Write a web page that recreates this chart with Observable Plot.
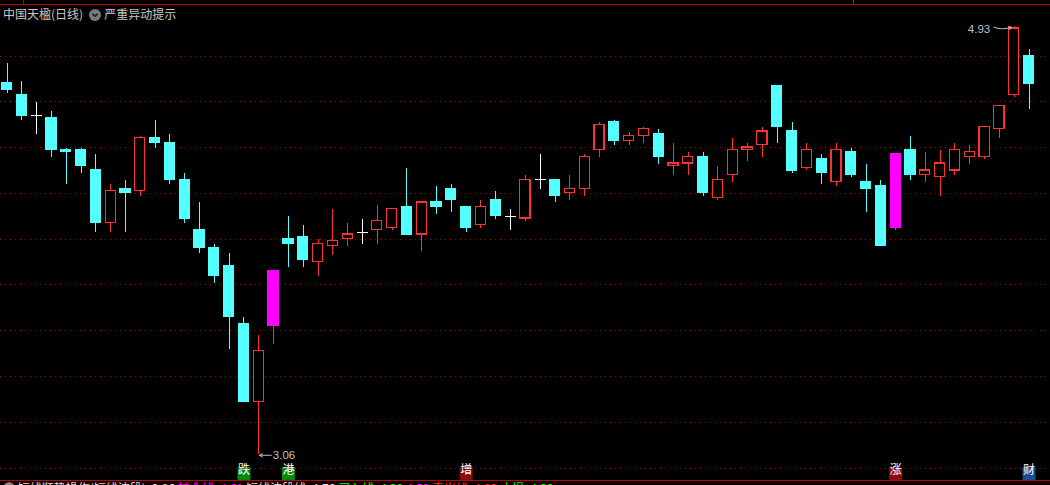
<!DOCTYPE html>
<html>
<head>
<meta charset="utf-8">
<script src="https://cdn.jsdelivr.net/npm/d3@7"></script>
<script src="https://cdn.jsdelivr.net/npm/@observablehq/plot@0.6"></script>
<style>
html,body{margin:0;padding:0;background:#000;overflow:hidden;width:1050px;height:485px}
#wrap{position:relative;width:1050px;height:485px;overflow:hidden}
#chart svg{display:block}
.hdr{position:absolute;left:3px;top:5px;font:12px "Noto Sans CJK SC",sans-serif;color:#c8c8c8;white-space:nowrap;line-height:18px}
.ico{display:inline-block;width:12px;height:12px;border-radius:6px;background:#7a7a7a;vertical-align:-2px;margin:0 3px 0 6px;position:relative}
.ico svg{position:absolute;left:0;top:0}
.hline{position:absolute;left:0;width:1050px;height:1px;background:#c00000}
.vline{position:absolute;top:0;width:1px;height:5px;background:#c00000}
.foot{position:absolute;left:3px;top:481px;font:12px "Noto Sans CJK SC",sans-serif;white-space:nowrap;line-height:14px}
</style>
</head>
<body>
<div id="wrap">
  <div id="chart"></div>
  <div class="hline" style="top:4px"></div>
  <div class="vline" style="left:23px"></div>
  <div class="vline" style="left:853px"></div>
  <div class="hline" style="top:480px"></div>
  <div class="hdr">中国天楹(日线)<span class="ico"><svg width="12" height="12"><path d="M3.5 4.8 L6 7.3 L8.5 4.8" fill="none" stroke="#1a1a1a" stroke-width="1.6"/></svg></span>严重异动提示</div>
  <div class="foot"><span style="color:#888">●</span> <span style="color:#ddd">短线顺势操作(短线波段): 3.86</span> <span style="color:#ff00ff">持仓线: 4.61</span> <span style="color:#ddd">短线波段线: 4.76</span> <span style="color:#00ff00">买入线: 4.39</span> <span style="color:#ff00ff">4.58</span> <span style="color:#ff3232">卖出线: 4.92</span> <span style="color:#00ff00">止损: 4.30</span></div>
</div>
<script>
// ---- data (daily OHLC, 70 sessions) ----
const opens  = [4.68,4.63,4.54,4.53,4.39,4.39,4.30,4.07,4.22,4.21,
                4.44,4.42,4.26,4.04,3.96,3.88,3.63,3.29,3.62,4.00,
                4.01,3.90,3.97,4.00,4.03,4.04,4.05,4.14,4.02,4.16,
                4.22,4.14,4.06,4.17,4.10,4.09,4.26,4.26,4.20,4.22,
                4.39,4.51,4.43,4.45,4.46,4.32,4.33,4.36,4.18,4.28,
                4.39,4.41,4.67,4.47,4.31,4.35,4.25,4.38,4.25,4.23,
                4.05,4.39,4.28,4.27,4.30,4.36,4.36,4.48,4.63,4.80];
const highs  = [4.77,4.69,4.60,4.56,4.40,4.40,4.37,4.24,4.26,4.45,
                4.52,4.46,4.29,4.16,3.98,3.94,3.66,3.58,3.86,4.10,
                4.06,4.00,4.13,4.07,4.09,4.15,4.13,4.31,4.16,4.23,
                4.24,4.14,4.17,4.21,4.13,4.28,4.37,4.26,4.28,4.37,
                4.51,4.52,4.47,4.49,4.48,4.42,4.38,4.38,4.32,4.44,
                4.42,4.49,4.67,4.51,4.42,4.37,4.42,4.40,4.33,4.26,
                4.37,4.45,4.38,4.39,4.42,4.41,4.49,4.58,4.93,4.83];
const lows   = [4.64,4.52,4.46,4.36,4.24,4.29,4.03,4.03,4.03,4.19,
                4.40,4.24,4.07,3.94,3.81,3.52,3.29,3.06,3.54,3.88,
                3.88,3.84,3.93,3.97,3.98,3.98,4.04,4.02,3.95,4.11,
                4.12,4.03,4.05,4.09,4.04,4.08,4.22,4.16,4.17,4.19,
                4.36,4.41,4.41,4.42,4.33,4.28,4.28,4.19,4.17,4.25,
                4.34,4.36,4.42,4.29,4.30,4.24,4.23,4.27,4.12,3.97,
                4.04,4.26,4.25,4.19,4.28,4.33,4.35,4.44,4.62,4.57];
const closes = [4.65,4.54,4.54,4.39,4.38,4.32,4.07,4.21,4.20,4.44,
                4.42,4.26,4.09,3.96,3.84,3.66,3.29,3.51,3.86,3.98,
                3.91,3.98,3.99,4.02,4.03,4.08,4.13,4.02,4.16,4.14,
                4.17,4.05,4.14,4.10,4.10,4.26,4.26,4.19,4.22,4.36,
                4.50,4.43,4.45,4.48,4.36,4.33,4.36,4.20,4.26,4.39,
                4.40,4.47,4.49,4.30,4.39,4.29,4.39,4.28,4.22,3.97,
                4.37,4.28,4.30,4.33,4.39,4.38,4.49,4.58,4.92,4.68];
const gridTicks = [3.0,3.2,3.4,3.6,3.8,4.0,4.2,4.4,4.6,4.8];
const signalIdx   = [16,19,31,60,69];
const signalText  = ["跌","港","增","涨","财"];
const signalColor = ["#0b870b","#0b870b","#8e0b0b","#8e0b0b","#1b4f90"];

const RED = "#ff3232", CYAN = "#54ffff", MAG = "#ff00ff", WHITE = "#ffffff";
const HW = 0.34; // half body width in bar units

const candles = opens.map((o, i) => {
  const c = closes[i];
  const prev = i > 0 ? closes[i - 1] : null;
  const limitUp = prev != null && c >= Math.round(prev * 110) / 100 - 0.001;
  const kind = limitUp ? "limit" : c > o ? "up" : c < o ? "down" : "doji";
  return {i, o, h: highs[i], l: lows[i], c, top: Math.max(o, c), bot: Math.min(o, c), kind};
});
const wickColor = d => d.kind === "down" ? CYAN : d.kind === "doji" ? WHITE : RED;
const bodyFill = d => d.kind === "down" ? CYAN : d.kind === "limit" ? MAG : "#000";
const bodyStroke = d => d.kind === "down" ? CYAN : d.kind === "limit" ? MAG : RED;

const bodies = candles.filter(d => d.kind !== "doji");
const dojis = candles.filter(d => d.kind === "doji");
const upper = candles.filter(d => d.h > d.top);
const lower = candles.filter(d => d.l < d.bot);

const hiIdx = d3.maxIndex(highs), loIdx = d3.minIndex(lows);
const hiPt = [{x: hiIdx, y: highs[hiIdx], t: highs[hiIdx].toFixed(2)}];
const loPt = [{x: loIdx, y: lows[loIdx], t: lows[loIdx].toFixed(2)}];
const signals = signalIdx.map((x, k) => ({x, t: signalText[k], col: signalColor[k]}));

const chart = Plot.plot({
  width: 1050, height: 485, margin: 0,
  style: {background: "#000"},
  x: {domain: [0, 69], range: [6.5, 1028.5], axis: null},
  y: {domain: [3.0, 4.8], range: [467.5, 55.5], axis: null},
  color: {type: "identity"},
  marks: [
    Plot.ruleY(gridTicks, {stroke: "#a80000", strokeDasharray: "1,4", shapeRendering: "crispEdges"}),
    Plot.link(upper, {x1: "i", x2: "i", y1: "h", y2: "top", stroke: wickColor, shapeRendering: "crispEdges"}),
    Plot.link(lower, {x1: "i", x2: "i", y1: "bot", y2: "l", stroke: wickColor, shapeRendering: "crispEdges"}),
    Plot.rect(bodies, {x1: d => d.i - HW, x2: d => d.i + HW, y1: "bot", y2: "top",
      fill: bodyFill, stroke: bodyStroke, strokeWidth: 1.2, shapeRendering: "crispEdges"}),
    Plot.link(dojis, {x1: d => d.i - HW - 0.03, x2: d => d.i + HW + 0.03, y1: "o", y2: "o", stroke: WHITE, shapeRendering: "crispEdges"}),
    Plot.text(hiPt, {x: "x", y: "y", text: "t", textAnchor: "end", dx: -24, dy: 3, fill: "#c0c0c0",
      fontSize: 11.5, fontFamily: "Liberation Sans, sans-serif"}),
    Plot.arrow(hiPt, {x1: d => d.x - 1.38, x2: d => d.x - 0.18, y1: "y", y2: "y", dy: 1,
      stroke: "#c0c0c0", strokeWidth: 1, headLength: 5, bend: -20}),
    Plot.arrow(loPt, {x1: d => d.x + 0.85, x2: d => d.x + 0.05, y1: "y", y2: "y", dy: 1,
      stroke: "#c0c0c0", strokeWidth: 1, headLength: 5}),
    Plot.text(loPt, {x: "x", y: "y", text: "t", textAnchor: "start", dx: 14, dy: 1, fill: "#c0c0c0",
      fontSize: 11.5, fontFamily: "Liberation Sans, sans-serif"}),
    Plot.dot(signals, {x: "x", frameAnchor: "bottom", dy: -12, symbol: "square", r: 7.3, fill: "col"}),
    Plot.text(signals, {x: "x", frameAnchor: "bottom", dy: -12, text: "t", fill: "#fff",
      fontSize: 12, fontFamily: "Noto Sans CJK SC, sans-serif"})
  ]
});
document.getElementById("chart").append(chart);
</script>
</body>
</html>
